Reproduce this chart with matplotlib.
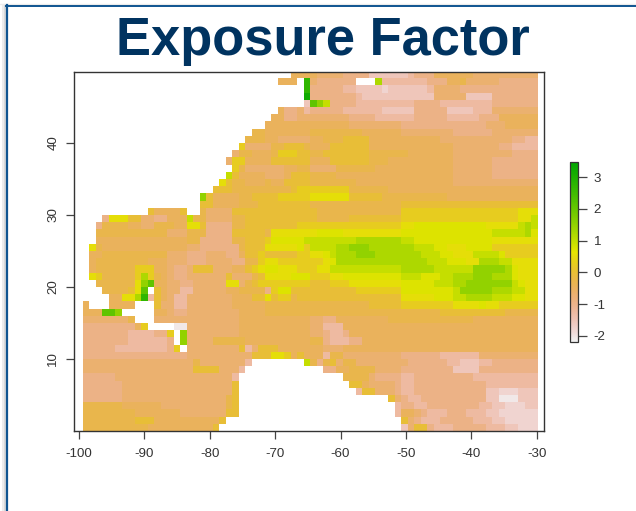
import re, colorsys
import numpy as np
import matplotlib
matplotlib.use("Agg")
import matplotlib.pyplot as plt
from matplotlib.colors import LinearSegmentedColormap
from matplotlib.lines import Line2D

plt.rcParams['font.family'] = ['Liberation Sans', 'DejaVu Sans']
plt.rcParams['axes.unicode_minus'] = False

TITLE = "Exposure Factor"
X_TICKS = [-100, -90, -80, -70, -60, -50, -40, -30]
Y_TICKS = [10, 20, 30, 40]
CBAR_TICKS = [-2, -1, 0, 1, 2, 3]

# level codes
LEVELS = dict(a=-2.05, b=-1.8, c=-1.56, d=-1.26, e=-0.96, f=-0.70, g=-0.46, h=-0.26,
              i=-0.03, j=0.25, k=0.55, l=0.72, m=0.96, n=1.21, o=1.5, p=2.1, q=2.7, r=3.2)

# raster rows, top (north) to bottom, run-length coded: count + level, '.' = no data
ROWS = [
 "32. 4g 4f 4e 6c 1d 3e 6g 4f 6f",
 "30. 3g 1. 1q 1f 6e 3. 1n 7d 3e 2g 1h 2f 3f 6e",
 "34. 1q 2e 3e 2d 4c 1b 6c 1d 4f 12e",
 "34. 1r 7e 1d 11c 5f 4c 7e",
 "34. 1c 1p 1o 1m 4e 9d 4e 8d 7e",
 "30. 1g 2e 1f 1d 5e 6d 5c 5e 4c 3d 7f",
 "29. 2g 2e 2f 6f 4e 6d 5e 5d 3e 6g",
 "28. 7g 6g 8f 13e 3f 5g",
 "26. 2h 7g 8h 6g 8f 6e 7f",
 "25. 3h 2g 5f 2g 3h 4i 11g 11f 2e 2d",
 "24. 1j 4f 2h 3i 1h 3g 6i 13g 7f 2e 4d",
 "23. 1f 2h 3g 1h 3j 2i 2h 7i 6h 7g 9f 4e",
 "22. 1f 2j 4g 6i 3g 6i 3h 10g 6f 7e",
 "23. 1j 1h 6f 2g 2h 4f 6h 12g 6f 7e",
 "22. 1m 1i 4g 3f 1g 3i 4h 18g 6f 7e",
 "21. 1k 1i 2h 3g 1h 2g 4i 7h 15g 13f",
 "20. 3i 9h 1i 8j 6h 23g",
 "18. 1o 1i 4g 2h 4i 5j 6k 5i 10h 14g",
 "18. 2i 4g 3h 1i 7i 14h 21i",
 "10. 1i 4g 1i 2. 1h 4f 3i 2i 8i 13h 18j 3k",
 "3. 1e 3k 2i 2f 2e 3g 1m 2h 4f 2h 3i 8i 5h 8i 18j 2k 1m",
 "2. 1e 4h 2g 2f 3h 2g 2k 1i 4e 2h 3i 5i 16j 2k 11l 5k 1m 1n 1m",
 "2. 11h 3f 3h 4e 5i 1h 7k 4l 9k 14l 4m 1m 1n 1l",
 "2. 14g 2h 5e 2h 3i 1j 5l 4m 4m 7n 2m 12l 7k",
 "1. 1k 1h 13g 2f 6e 1h 3i 5k 1l 1j 4m 2n 3o 5n 2n 1m 2m 2l 3k 4l 7j",
 "1. 2g 10h 3f 3e 3f 2e 1g 2i 1j 5i 2j 2k 1l 1m 3n 3o 7n 3m 2l 3k 4m 1l 5j",
 "1. 1g 8h 3g 3f 3e 4f 2e 2h 1j 2k 7j 1k 1l 14n 3m 3l 2k 3n 2m 4k",
 "1. 1g 6h 3j 2g 1f 2e 1f 3i 3f 2g 1i 1j 1k 2l 3k 3j 2k 11m 5n 6m 5o 1n 1l 3k",
 "1. 1k 1j 5h 1j 1n 1j 1h 1g 1f 2e 6f 1i 3f 1h 1i 4k 3l 3j 2k 9l 3m 3l 2m 3n 3o 3n 1l 3k",
 "2. 6h 1k 1o 1p 2g 2f 2e 5f 2k 1f 1h 1i 1j 7j 3i 3j 8k 5l 3m 2n 7o 1m 1l 2k",
 "3. 4h 1i 1k 1p 1. 1i 1g 2f 2d 5f 2g 4h 1e 1j 2l 10i 7j 8l 1m 5o 3n 2m 2k",
 "4. 2g 2k 1n 1q 1d 1i 1g 1f 2d 7f 3g 2i 1k 1i 2j 1h 16i 5k 3l 2m 4n 3m 2l 2k",
 "1g 3. 4g 3. 1i 2f 2d 7f 5g 16h 5i 8j 4k 1l 2k 6j",
 "3g 1p 1p 1o 5. 2g 1f 2e 8f 4g 21h 6h 10i 5h",
 "7f 1h 3. 13f 4g 7g 2f 2e 8g 13h 10g",
 "8e 1g 1j 4. 2a 8f 11g 2f 3d 30g",
 "7e 4d 2e 1j 1. 1o 8f 11g 2f 1e 2d 1e 29g",
 "7e 6d 1e 1. 1o 4f 5h 10g 2h 1e 3d 2e 27g",
 "5e 8d 1e 1j 1. 8f 1i 1d 1f 3i 7g 3f 20g 10g",
 "16e 9f 1f 3i 2k 1j 1g 1i 2g 1g 1d 2h 9f 6e 6d 9f",
 "17f 1h 7f 1d 8. 1m 1h 1e 1h 1i 1f 2h 8f 6e 2d 3c 2d 7e",
 "17f 4i 3f 1d 12. 2e 2g 4h 4f 8e 4c 9e",
 "5e 18f 1d 16. 4h 1f 4e 2d 9e 10d",
 "6e 17f 1i 17. 2i 1g 4f 1e 2d 11e 8d",
 "6e 17f 1i 18. 1d 2i 3f 1e 2d 11e 2c 3b 3c",
 "6e 16f 1h 1i 23. 1i 1f 1e 2d 10e 2c 3a 3c",
 "6h 6g 10f 1h 1i 24. 1d 2e 2d 8e 2d 2c 3b 2c",
 "8h 7g 7f 2i 24. 1d 2g 1f 1e 3d 3e 3d 2c 6b",
 "8h 3i 10g 1i 27. 1i 1f 1e 3d 5e 3d 2c 5b",
 "10h 10g 1i 28. 1c 1f 2i 1e 3d 5e 3d 2c 5b",
]


def decode(row):
    out = []
    for count, code in re.findall(r"(\d+)([a-r.])", row):
        out += [LEVELS.get(code, np.nan)] * int(count)
    return (out + [np.nan] * 70)[:70]


grid = np.array([decode(r) for r in ROWS], dtype=float)

# R terrain.colors ramp, low to high
low, mid, high = (0, 0, 0.95), (1 / 6, 1, 0.9), (2 / 6, 1, 0.65)
stops = []
for k in range(33):
    t = k / 32
    a, b = (low, mid) if t <= .5 else (mid, high)
    u = t * 2 if t <= .5 else t * 2 - 1
    h, s, v = [a[n] + (b[n] - a[n]) * u for n in range(3)]
    stops.append(colorsys.hsv_to_rgb(h, s, v))
cmap = LinearSegmentedColormap.from_list("terrain_r", stops, N=256)
cmap.set_bad((1, 1, 1, 0))

W, H = 636, 511
fig = plt.figure(figsize=(W / 100, H / 100), dpi=100)


def box(l, t, r, b):
    return [l / W, 1 - b / H, (r - l) / W, (b - t) / H]


ax = fig.add_axes(box(74.3, 72, 544.3, 431))
im = ax.imshow(grid, cmap=cmap, vmin=-2.18, vmax=3.47, aspect='auto',
               extent=(-99.36, -30, 0, 49.86), interpolation='nearest')
ax.set_xlim(-100.67, -28.88)
ax.set_ylim(0, 49.86)
ax.set_xticks(X_TICKS)
ax.set_yticks(Y_TICKS)
ax.tick_params(axis='both', length=5.8, width=0.9, color='#444444', labelcolor='#333333',
               labelsize=9.6)
ax.tick_params(axis='x', pad=6.5)
ax.tick_params(axis='y', pad=5)
for t in ax.get_yticklabels():
    t.set_rotation(90)
    t.set_va('center')
for s in ax.spines.values():
    s.set_linewidth(1.0)
    s.set_color('#333333')

cax = fig.add_axes(box(570.3, 162.3, 577.7, 341.7))
cb = fig.colorbar(im, cax=cax)
cb.set_ticks(CBAR_TICKS)
cb.ax.tick_params(length=6.5, width=0.9, color='#444444', labelcolor='#333333',
                  labelsize=9.6, pad=5)
cb.outline.set_linewidth(0.9)
cb.outline.set_edgecolor('#333333')

fig.text(323 / W, 1 - 55 / H, TITLE, ha='center', va='baseline', fontsize=37.8,
         fontweight='bold', color='#003360')

# slide frame
for x, c, lw in [(4.5, '#d8d8d8', 1.5), (3.0, '#ececec', 1.5)]:
    fig.add_artist(Line2D([x / W, x / W], [0, 1 - 5 / H], color=c, lw=lw))
fig.add_artist(Line2D([0, 1], [1 - 4 / H] * 2, color='#ececec', lw=1.0))
fig.add_artist(Line2D([7 / W, 7 / W], [0, 1 - 5.5 / H], color='#0f5490', lw=1.6))
fig.add_artist(Line2D([6.2 / W, 1], [1 - 6 / H] * 2, color='#0f5490', lw=1.4))

fig.savefig('out.png', dpi=100)
